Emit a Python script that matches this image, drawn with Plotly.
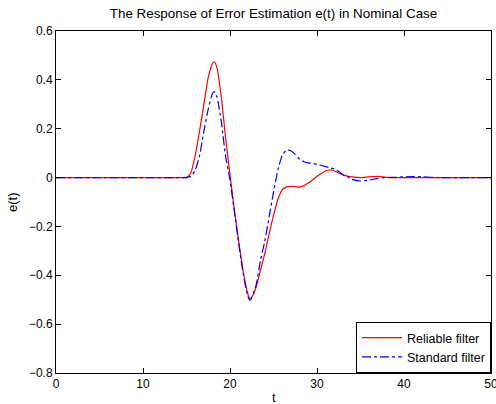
import plotly.graph_objects as go

t = [0, 5, 10, 14, 14.5, 15, 15.5, 16, 16.5, 17, 17.5, 18, 18.2, 18.5, 19, 19.5, 20, 20.5, 21,
     21.5, 22, 22.3, 22.5, 23, 23.5, 24, 24.5, 25, 25.5, 26, 26.5, 27, 27.5, 28, 28.5,
     29, 29.5, 30, 31, 31.5, 32, 32.5, 33, 33.5, 34, 35, 36, 37, 38, 39, 40, 41, 42, 44, 47, 50]

reliable = [0, 0, 0, 0, 0, 0, 0.02, 0.09, 0.19, 0.30, 0.41, 0.468, 0.474, 0.45, 0.33, 0.16, 0.012, -0.13, -0.26,
            -0.38, -0.47, -0.498, -0.49, -0.45, -0.38, -0.31, -0.23, -0.155, -0.09, -0.05, -0.038, -0.036, -0.037, -0.039, -0.033,
            -0.022, -0.01, 0.005, 0.027, 0.031, 0.027, 0.019, 0.011, 0.006, 0.003, 0.0, 0.003, 0.005, 0.001, 0, 0, 0, 0, 0, 0, 0]

standard = [0, 0, 0, 0, 0, 0, 0.005, 0.03, 0.09, 0.19, 0.28, 0.345, 0.352, 0.33, 0.23, 0.085, -0.01, -0.14, -0.27,
            -0.39, -0.48, -0.503, -0.49, -0.44, -0.34, -0.26, -0.16, -0.06, 0.03, 0.09, 0.112, 0.11, 0.095, 0.075, 0.065,
            0.06, 0.058, 0.054, 0.045, 0.04, 0.035, 0.025, 0.012, 0.003, -0.007, -0.014, -0.01, -0.003, 0, 0.001, 0.003, 0.004, 0.003, 0, 0, 0]

x_ticks = [0, 10, 20, 30, 40, 50]
y_ticks = [-0.8, -0.6, -0.4, -0.2, 0, 0.2, 0.4, 0.6]
y_tick_labels = ["\u22120.8", "\u22120.6", "\u22120.4", "\u22120.2", "0", "0.2", "0.4", "0.6"]

fig = go.Figure()
fig.add_trace(go.Scatter(x=t, y=reliable, mode="lines", name="Reliable filter",
                         line=dict(color="#ff0000", width=1.2, shape="spline", smoothing=0.6)))
fig.add_trace(go.Scatter(x=t, y=standard, mode="lines", name="Standard filter",
                         line=dict(color="#0000ff", width=1.2, dash="dashdot", shape="spline", smoothing=0.6)))

font = "Liberation Sans, Arial, Helvetica, sans-serif"
axis_common = dict(showline=True, linecolor="black", linewidth=1, mirror="ticks",
                   ticks="inside", ticklen=5, tickcolor="black", showgrid=False, zeroline=False,
                   automargin=False, ticklabeloverflow="allow",
                   tickfont=dict(size=12, color="black", family=font))
fig.update_layout(
    width=496, height=404,
    margin=dict(l=56, r=5, t=31, b=31, autoexpand=False),
    paper_bgcolor="white", plot_bgcolor="white",
    title=dict(text="The Response of Error Estimation e(t) in Nominal Case",
               x=0.5, xref="paper", xanchor="center", y=1 - 13 / 404, yref="container", yanchor="middle",
               font=dict(size=13.4, color="black", family=font)),
    xaxis=dict(range=[0, 50], tickvals=x_ticks, **axis_common),
    yaxis=dict(range=[-0.8, 0.6], tickvals=y_ticks, ticktext=y_tick_labels, **axis_common),
    legend=dict(x=1, xanchor="right", y=0, yanchor="bottom", bgcolor="white",
                bordercolor="black", borderwidth=1, itemwidth=40,
                font=dict(size=12.5, color="black", family=font),
                tracegroupgap=0),
    showlegend=True,
    annotations=[
        dict(text="t", xref="paper", yref="paper", x=0.5, y=-24 / 342, xanchor="center", yanchor="middle",
             showarrow=False, font=dict(size=13, color="black", family=font)),
        dict(text="e(t)", xref="paper", yref="paper", x=-44 / 435, y=0.5, xanchor="center", yanchor="middle",
             textangle=-90, showarrow=False, font=dict(size=13, color="black", family=font)),
    ],
)
fig.write_html("out.html", config={"displayModeBar": False},
               post_script="document.body.style.margin='0';document.body.style.overflow='hidden';")
